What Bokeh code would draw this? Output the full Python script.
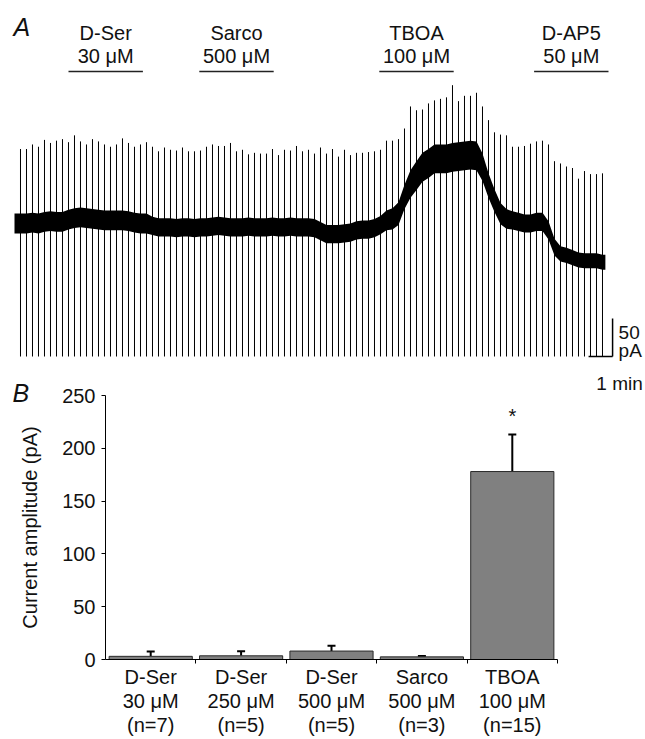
from bokeh.plotting import figure
from bokeh.models import Range1d, Whisker, TeeHead, ColumnDataSource, FixedTicker
from bokeh.core.properties import value
from bokeh.embed import file_html
from bokeh.resources import INLINE

FONT = "Liberation Sans"

# ---------------- Panel A data (whole-cell current trace) ----------------
STIM_INTERVAL_MIN = 0.25          # one test pulse every 15 s
spike_top = [
    98, 98, 104, 101, 110, 106, 109, 111, 107, 116,
    108, 104, 111, 108, 104, 101, 104, 112, 106, 101,
    104, 107, 101, 95, 100, 97, 96, 100, 95, 95,
    96, 101, 104, 102, 102, 106, 95, 97, 91, 93,
    92, 92, 98, 90, 97, 96, 102, 95, 97, 92,
    100, 92, 98, 88, 97, 90, 93, 93, 94, 95,
    97, 109, 109, 111, 125, 154, 149, 150, 158, 162,
    164, 166, 182, 161, 168, 168, 172, 154, 136, 120,
    117, 116, 101, 101, 102, 105, 108, 109, 104, 82,
    79, 75, 73, 59, 69, 65, 65, 66,
]
spike_floor = -175                # pA, clipped downward deflection
base_mid = [
    0, 0, 1, 0, 2, 3, 2, 2, 5, 7, 8, 7, 6, 5,
    4, 4, 4, 4, 3, 1, 0, 0, -3, -5, -5, -5, -6, -5, -5, -6, -5, -5, -4,
    -3, -4, -5, -5, -5, -4, -5, -5, -5, -4, -5, -5, -4, -5, -5, -5, -6, -10, -14,
    -14, -14, -13, -12, -9, -8, -8, -6, -2, 4, 6, 13, 35, 52, 63, 74, 79,
    85, 85, 85, 87, 88, 89, 90, 89, 74, 50, 30, 13, 6, 4, 2, 0, 0, 2, 2, -9,
    -31, -40, -42, -45, -48, -49, -49, -49, -51,
]
base_half = [
    13, 13, 13, 13, 13, 13, 13, 13, 13, 13,
    13, 13, 13, 13, 13, 13, 13, 13, 13, 13,
    13, 13, 12, 12, 12, 12, 12, 12, 12, 12,
    12, 12, 12, 12, 12, 12, 12, 12, 12, 12,
    12, 12, 12, 12, 12, 12, 12, 12, 12, 12,
    12, 12, 12, 12, 12, 12, 12, 12, 12, 12,
    12, 13, 14, 15, 16, 18, 19, 19, 19, 19,
    19, 19, 19, 19, 19, 19, 19, 18, 16, 15,
    14, 13, 12, 12, 12, 12, 12, 12, 12, 11,
    10, 10, 10, 10, 10, 10, 10, 10,
]
drug_names = ["D-Ser", "Sarco", "TBOA", "D-AP5"]
drug_conc = ["30 \u03bcM", "500 \u03bcM", "100 \u03bcM", "50 \u03bcM"]
drug_start = [2.0, 7.45, 14.95, 21.4]     # min
drug_end = [5.1, 10.55, 18.05, 24.5]      # min
scale_pA = 50
scale_min = 1

# ---------------- Panel B data (mean current amplitude) ----------------
cat_drug = ["D-Ser", "D-Ser", "D-Ser", "Sarco", "TBOA"]
cat_conc = ["30 \u03bcM", "250 \u03bcM", "500 \u03bcM", "500 \u03bcM", "100 \u03bcM"]
cat_n = [7, 5, 5, 3, 15]
amp_mean = [3, 3.5, 8, 2.5, 178]
amp_sem = [4.5, 4.3, 5, 0.7, 35]
signif = ["", "", "", "", "*"]
y_ticks = [0, 50, 100, 150, 200, 250]

TXT = dict(text_font=value(FONT), text_color="#111111")

# ======================= Panel A =======================
n = len(spike_top)
spike_t = [i * STIM_INTERVAL_MIN for i in range(n)]
band_t = [spike_t[0] - 0.25] + spike_t + [spike_t[-1] + 0.12]
mid = [base_mid[0]] + base_mid + [base_mid[-1]]
half = [base_half[0]] + base_half + [base_half[-1]]
lower = [m - h for m, h in zip(mid, half)]
upper = [m + h for m, h in zip(mid, half)]

pa = figure(width=645, height=412, x_range=Range1d(-0.8333, 26.0417),
            y_range=Range1d(-248.68, 293.42), x_axis_type=None, y_axis_type=None,
            output_backend="svg", toolbar_location=None, min_border=0)
pa.grid.visible = False
pa.outline_line_color = None

pa.varea(x=band_t, y1=lower, y2=upper, fill_color="black")
pa.segment(x0=spike_t, y0=[spike_floor] * n, x1=spike_t, y1=spike_top,
           line_color="black", line_width=1)

BAR_Y = 200
drug_mid = [(a + b) / 2 for a, b in zip(drug_start, drug_end)]
pa.segment(x0=drug_start, y0=[BAR_Y] * 4, x1=drug_end, y1=[BAR_Y] * 4,
           line_color="#222222", line_width=1.5)
pa.text(x=drug_mid, y=[BAR_Y] * 4, text=drug_names, text_align="center",
        text_baseline="middle", y_offset=-38.5, text_font_size="20px", **TXT)
pa.text(x=drug_mid, y=[BAR_Y] * 4, text=drug_conc, text_align="center",
        text_baseline="middle", y_offset=-15, text_font_size="20px", **TXT)

pa.text(x=[-0.29, -0.333], y=[259.2, -222.4], text=["A", "B"], text_align="left",
        text_baseline="middle", text_font_style="italic", text_font_size="25px", **TXT)

# scale bars
SB_X = 24.67
pa.segment(x0=[SB_X, SB_X - scale_min], y0=[spike_floor + scale_pA, spike_floor],
           x1=[SB_X, SB_X], y1=[spike_floor, spike_floor],
           line_color="black", line_width=1.5)
pa.text(x=[SB_X + 0.25, SB_X + 0.25], y=[-143.4, -167.1],
        text=[f"{scale_pA}", "pA"], text_align="left", text_baseline="middle",
        text_font_size="19px", **TXT)
pa.text(x=[24.96], y=[-210.5], text=[f"{scale_min} min"], text_align="center",
        text_baseline="middle", text_font_size="19px", **TXT)

# ======================= Panel B =======================
xpos = [i + 1 for i in range(len(cat_drug))]
labels = {x: f"{d}\n{c}\n(n={k})" for x, d, c, k in zip(xpos, cat_drug, cat_conc, cat_n)}
upper_err = [m + s for m, s in zip(amp_mean, amp_sem)]
src = ColumnDataSource(dict(x=xpos, mean=amp_mean, upper=upper_err, sig=signif))

pb = figure(width=645, height=359, x_range=Range1d(0.5, 5.5), y_range=Range1d(0, 250),
            output_backend="svg", toolbar_location=None,
            min_border_left=105, min_border_right=88, min_border_top=15, min_border_bottom=80)
pb.grid.visible = False
pb.outline_line_color = None
pb.border_fill_color = None
pb.background_fill_color = None
pb.margin = (-32, 0, 0, 0)

pb.vbar(x="x", top="mean", bottom=0, width=0.92, source=src,
        fill_color="#808080", line_color="#2a2a2a", line_width=1)
pb.add_layout(Whisker(source=src, base="x", lower="mean", upper="upper", dimension="height",
                      line_color="black", line_width=2,
                      upper_head=TeeHead(size=8, line_width=2, line_color="black"),
                      lower_head=None))
pb.text(x="x", y="upper", text="sig", source=src, text_align="center",
        text_baseline="middle", y_offset=-19, text_font_size="20px", **TXT)

xa = pb.xaxis[0]
xa.ticker = FixedTicker(ticks=xpos, minor_ticks=[x + 0.5 for x in xpos])
xa.major_label_overrides = labels
xa.major_tick_line_color = None
xa.major_tick_out = 0
xa.major_tick_in = 0
xa.minor_tick_line_color = "black"
xa.minor_tick_out = 4
xa.minor_tick_in = 0
xa.axis_line_color = "black"
xa.major_label_standoff = 2
xa.major_label_text_font = FONT
xa.major_label_text_font_size = "20px"
xa.major_label_text_color = "#111111"
xa.major_label_text_line_height = 1.1

ya = pb.yaxis[0]
ya.ticker = FixedTicker(ticks=y_ticks)
ya.major_tick_out = 4
ya.major_tick_in = 0
ya.minor_tick_line_color = None
ya.axis_line_color = "black"
ya.major_tick_line_color = "black"
ya.major_label_standoff = 6
ya.major_label_text_font = FONT
ya.major_label_text_font_size = "20px"
ya.major_label_text_color = "#111111"
ya.axis_label = "Current amplitude (pA)"
ya.axis_label_text_font = FONT
ya.axis_label_text_font_size = "20px"
ya.axis_label_text_font_style = "normal"
ya.axis_label_text_color = "#111111"
ya.axis_label_standoff = 18

open("out.html", "w").write(file_html([pa, pb], INLINE))
